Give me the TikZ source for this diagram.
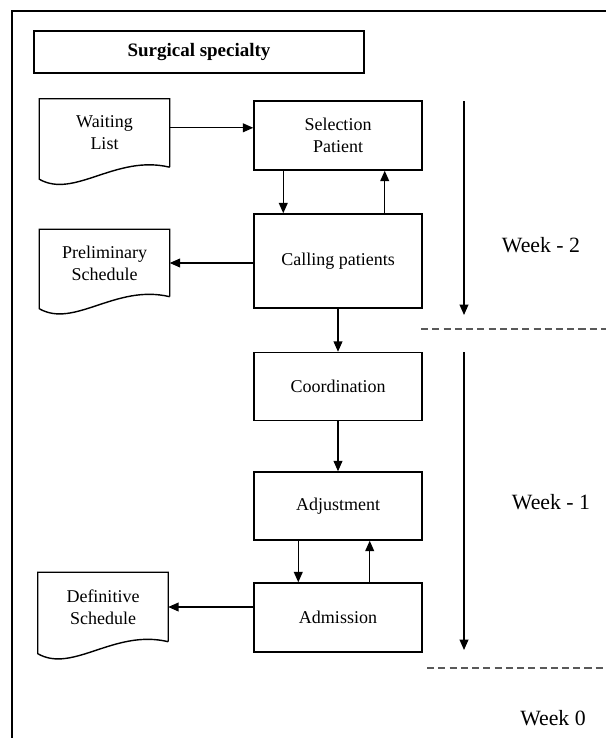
\documentclass[tikz,border=0pt]{standalone}
\usepackage{fontspec}
\setmainfont{Liberation Serif}
\usetikzlibrary{arrows.meta, positioning, calc}

\begin{document}
\begin{tikzpicture}[
    x=0.025cm, y=-0.025cm,
    line width=1pt,
    box/.style={
        draw, minimum width=4.2cm, align=center,
        font=\fontsize{12.8}{15.5}\selectfont
    },
    docu/.style={
        minimum width=3.225cm, align=center, inner sep=0pt,
        font=\fontsize{12.8}{15.5}\selectfont
    },
    conn/.style={-{Triangle[length=0.26cm,width=0.22cm]}, line width=0.95pt},
    sep/.style={dashed, dash pattern=on 5pt off 3pt, draw=black!65, line width=1pt},
    week/.style={font=\fontsize{15.5}{18}\selectfont}
]
\useasboundingbox (0,0) rectangle (606,738);

% frame
\draw (12,738) -- (12,11) -- (606,11);

\node[draw, minimum width=8.25cm, minimum height=1.05cm,
      font=\fontsize{13.5}{16}\selectfont\bfseries] (surg) at (199,52) {Surgical specialty};

% process boxes
\node[box, minimum height=1.725cm] (sel)   at (338,135.5) {Selection\\Patient};
\node[box, minimum height=2.35cm]  (call)  at (338,261)   {Calling patients};
\node[box, minimum height=1.7cm]   (coord) at (338,386.5) {Coordination};
\node[box, minimum height=1.7cm]   (adj)   at (338,506)   {Adjustment};
\node[box, minimum height=1.725cm] (adm)   at (338,617.5) {Admission};

% documents
\node[docu, minimum height=1.675cm] (wait) at (104.5,133) {Waiting\\List};
\node[docu, minimum height=1.65cm]  (prel) at (104.5,263) {Preliminary\\Schedule};
\node[docu, minimum height=1.7cm]   (defi) at (103,607)   {Definitive\\Schedule};

\foreach \d in {wait,prel,defi}
    \draw (\d.south east) -- (\d.north east) -- (\d.north west) -- ($(\d.south west)+(0,12)$)
        .. controls +(35,20) and +(-54,-13) .. (\d.south east);

% connectors
\draw[conn] ([yshift=0.13cm]wait.east) -- ([yshift=0.13cm]wait.east -| sel.west);
\draw[conn] ([xshift=0.75cm]sel.south west) -- ([xshift=0.75cm]call.north west);
\draw[conn] ([xshift=-0.95cm]call.north east) -- ([xshift=-0.95cm]sel.south east);
\draw[conn] (call.west |- prel.east) -- (prel.east);
\draw[conn] (call.south) -- (coord.north);
\draw[conn] (coord.south) -- (adj.north);
\draw[conn] ([xshift=1.125cm]adj.south west) -- ([xshift=1.125cm]adm.north west);
\draw[conn] ([xshift=-1.325cm]adm.north east) -- ([xshift=-1.325cm]adj.south east);
\draw[conn] (adm.west |- defi.east) -- (defi.east);

% weeks
\coordinate (w2a) at (464,101);
\coordinate (w2b) at (464,315);
\coordinate (w1a) at (464,352);
\coordinate (w1b) at (464,650);
\coordinate (s1a) at (421,329);
\coordinate (s1b) at (606,329);
\coordinate (s2a) at (427,668);
\coordinate (s2b) at (606,668);

\draw[conn] (w2a) -- (w2b);
\draw[conn] (w1a) -- (w1b);
\draw[sep] (s1a) -- (s1b);
\draw[sep] (s2a) -- (s2b);

\node[week] (wk2) at (541,245) {Week - 2};
\node[week] (wk1) at (551,502) {Week - 1};
\node[week] (wk0) at (553,718) {Week 0};

\end{tikzpicture}
\end{document}
